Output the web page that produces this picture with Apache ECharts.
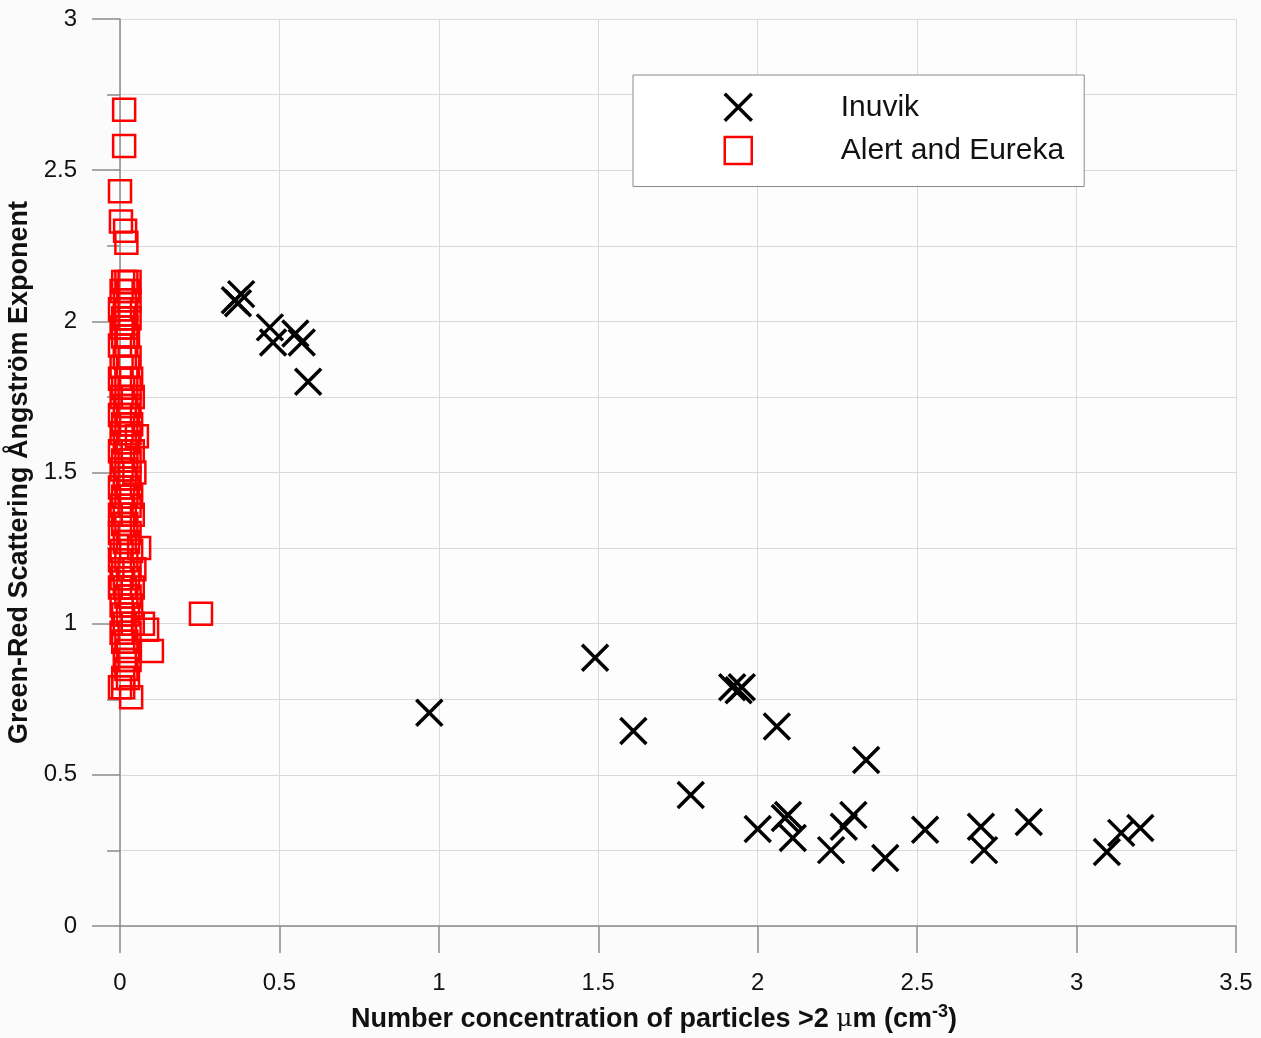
<!DOCTYPE html>
<html><head><meta charset="utf-8">
<script src="https://cdn.jsdelivr.net/npm/echarts@6/dist/echarts.min.js"></script>
<style>html,body{margin:0;padding:0;background:#fbfbfb}#c{width:1261px;height:1038px}</style>
</head><body><div id="c"></div>
<script>
var xTicks = [0, 0.5, 1, 1.5, 2, 2.5, 3, 3.5];
var yTicks = [0, 0.5, 1, 1.5, 2, 2.5, 3];
var seriesNames = ['Inuvik', 'Alert and Eureka'];

var inuvik = [
  [0.36,2.07],[0.38,2.09],[0.37,2.06],
  [0.47,1.98],[0.48,1.93],[0.55,1.96],[0.57,1.93],[0.59,1.80],
  [0.97,0.705],[1.49,0.887],[1.61,0.645],[1.79,0.433],
  [1.92,0.79],[1.94,0.78],[1.95,0.79],[2.06,0.66],
  [2.00,0.321],[2.085,0.357],[2.095,0.367],[2.11,0.291],
  [2.23,0.251],[2.27,0.328],[2.30,0.367],[2.34,0.549],
  [2.40,0.225],[2.525,0.318],[2.70,0.328],[2.71,0.251],
  [2.85,0.344],[3.095,0.245],[3.14,0.308],[3.20,0.324]
];

var alertEureka = [
  [0.013,2.70],[0.013,2.58],[0.0,2.43],[0.003,2.33],[0.016,2.30],[0.02,2.26],
  [0.01,2.13],[0.02,2.13],[0.03,2.13],[0.005,2.10],[0.025,2.10],
  [0.015,2.07],[0.03,2.07],[0.0,2.04],[0.02,2.04],
  [0.01,2.01],[0.03,2.01],[0.015,2.01],[0.005,1.98],[0.02,1.98],
  [0.025,1.95],[0.01,1.95],[0.0,1.92],[0.02,1.92],
  [0.015,1.88],[0.03,1.88],[0.005,1.85],[0.025,1.85],
  [0.0,1.81],[0.02,1.81],[0.035,1.81],[0.01,1.78],[0.03,1.78],
  [0.005,1.75],[0.04,1.75],[0.02,1.75],[0.015,1.72],[0.03,1.72],
  [0.0,1.69],[0.025,1.69],[0.01,1.66],[0.035,1.66],[0.02,1.66],
  [0.005,1.63],[0.053,1.62],[0.03,1.63],[0.015,1.60],[0.025,1.60],
  [0.0,1.57],[0.02,1.57],[0.04,1.57],[0.01,1.54],[0.03,1.54],
  [0.005,1.51],[0.045,1.50],[0.02,1.51],[0.015,1.48],[0.03,1.48],
  [0.0,1.45],[0.025,1.45],[0.01,1.42],[0.035,1.42],[0.02,1.42],
  [0.005,1.39],[0.03,1.39],[0.015,1.36],[0.04,1.36],[0.0,1.36],
  [0.02,1.33],[0.01,1.33],[0.0,1.30],[0.03,1.30],
  [0.015,1.27],[0.06,1.25],[0.025,1.27],[0.005,1.24],[0.035,1.24],
  [0.0,1.21],[0.02,1.21],[0.01,1.18],[0.045,1.18],[0.03,1.18],
  [0.005,1.15],[0.025,1.15],[0.015,1.12],[0.04,1.12],[0.0,1.12],
  [0.02,1.09],[0.03,1.09],[0.005,1.06],[0.035,1.06],
  [0.01,1.03],[0.025,1.03],[0.015,1.00],[0.04,1.00],[0.072,1.00],
  [0.005,0.97],[0.03,0.97],[0.085,0.98],[0.02,0.94],[0.01,0.94],
  [0.025,0.91],[0.1,0.91],[0.015,0.88],[0.03,0.88],[0.02,0.85],
  [0.01,0.82],[0.025,0.82],[0.0,0.79],[0.01,0.79],[0.035,0.757],
  [0.254,1.033]
];

var chart = echarts.init(document.getElementById('c'), null, {renderer:'canvas'});
var font = 'Liberation Sans, Arial, sans-serif';
chart.setOption({
  backgroundColor: '#fbfbfb',
  animation: false,
  grid: {left:120, right:25, top:19, bottom:112, show:true, backgroundColor:'#fdfdfd', borderWidth:0,
    containLabel:false, outerBoundsMode:'none'},
  legend: {
    orient:'vertical', left:633, top:75,
    padding:[17,20,21,90],
    backgroundColor:'#ffffff', borderColor:'#8a8a8a', borderWidth:1,
    itemWidth:27, itemHeight:27, itemGap:13,
    textStyle:{fontFamily:font, fontSize:30, color:'#111', padding:[0,0,0,84]},
    data:[
      {name:seriesNames[0], itemStyle:{color:'transparent', borderColor:'#000', borderWidth:3.5, opacity:1}},
      {name:seriesNames[1], itemStyle:{color:'transparent', borderColor:'#ff0000', borderWidth:2.5, opacity:1}}
    ]
  },
  xAxis: {
    type:'value', min:xTicks[0], max:xTicks[xTicks.length-1], interval:0.5,
    axisLine:{show:true, onZero:false, lineStyle:{color:'#8c8c8c', width:1.5}},
    axisTick:{show:true, inside:false, length:27, lineStyle:{color:'#8c8c8c', width:1.5}},
    axisLabel:{fontFamily:font, fontSize:24, color:'#111', margin:45,
      formatter:function(v){return String(v);}},
    splitLine:{show:true, lineStyle:{color:'#dadada', width:1}},
    name:'{b|Number concentration of particles >2 }{m|\u03bc}{b|m (cm}{s|-3}{b|)}',
    nameLocation:'middle', nameGap:77,
    nameTextStyle:{padding:[0,48,0,0], rich:{
      b:{fontFamily:font, fontSize:27, fontWeight:'bold', color:'#111'},
      m:{fontFamily:'DejaVu Serif, serif', fontSize:25, color:'#111'},
      s:{fontFamily:font, fontSize:18, fontWeight:'bold', color:'#111', padding:[0,0,15,0]}
    }}
  },
  yAxis: {
    type:'value', min:yTicks[0], max:yTicks[yTicks.length-1], interval:0.5,
    axisLine:{show:true, onZero:false, lineStyle:{color:'#8c8c8c', width:1.5}},
    axisTick:{show:true, inside:false, length:28, lineStyle:{color:'#8c8c8c', width:1.5}},
    minorTick:{show:true, splitNumber:2, length:13, lineStyle:{color:'#8c8c8c', width:1.5}},
    minorSplitLine:{show:true, lineStyle:{color:'#dadada', width:1}},
    axisLabel:{fontFamily:font, fontSize:24, color:'#111', margin:43,
      formatter:function(v){return String(v);}},
    splitLine:{show:true, lineStyle:{color:'#dadada', width:1}},
    name:'Green-Red Scattering \u00c5ngstr\u00f6m Exponent',
    nameLocation:'middle', nameGap:78, nameRotate:90,
    nameTextStyle:{fontFamily:font, fontSize:27, fontWeight:'bold', color:'#111'}
  },
  series: [
    {
      name:seriesNames[1], type:'scatter', clip:false,
      symbol:'rect', symbolSize:22,
      itemStyle:{color:'transparent', borderColor:'#ff0000', borderWidth:2.5, opacity:1},
      data:alertEureka, z:2
    },
    {
      name:seriesNames[0], type:'scatter', clip:false,
      symbol:'path://M0,0L10,10M10,0L0,10', symbolSize:26,
      itemStyle:{color:'transparent', borderColor:'#000000', borderWidth:3.5, opacity:1},
      data:inuvik, z:3
    }
  ]
});
</script></body></html>
